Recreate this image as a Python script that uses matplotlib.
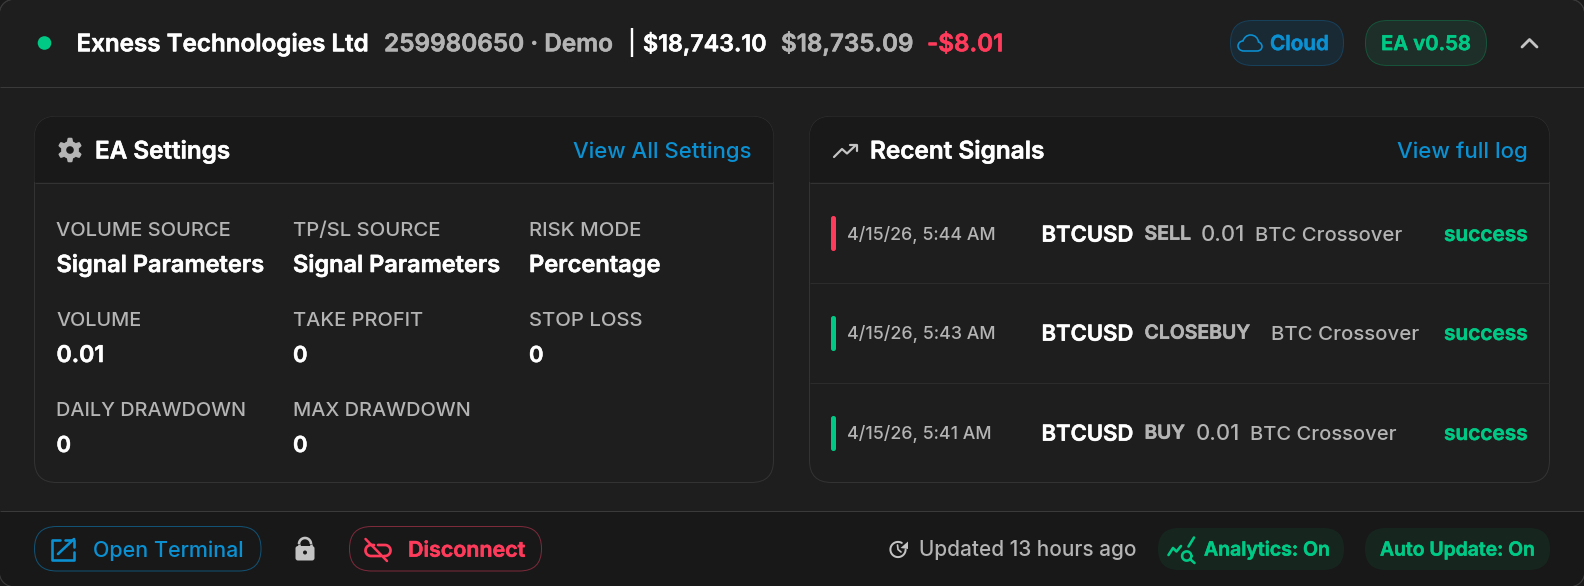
import numpy as np
import matplotlib
matplotlib.use("Agg")
import matplotlib.pyplot as plt
import matplotlib.patheffects as pe
from matplotlib.patches import FancyBboxPatch, Circle, PathPatch, Polygon
from matplotlib.path import Path

# ---- content -------------------------------------------------------------
broker = "Exness Technologies Ltd"
account = "259980650 · Demo"
balance = "$18,743.10"
equity = "$18,735.09"
pnl = "-$8.01"
badge_cloud = "Cloud"
badge_version = "EA v0.58"

settings_title = "EA Settings"
settings_link = "View All Settings"
settings_labels = ["VOLUME SOURCE", "TP/SL SOURCE", "RISK MODE", "VOLUME", "TAKE PROFIT",
                   "STOP LOSS", "DAILY DRAWDOWN", "MAX DRAWDOWN"]
settings_values = ["Signal Parameters", "Signal Parameters", "Percentage", "0.01", "0", "0", "0", "0"]

signals_title = "Recent Signals"
signals_link = "View full log"
signal_dates = ["4/15/26, 5:44 AM", "4/15/26, 5:43 AM", "4/15/26, 5:41 AM"]
signal_symbols = ["BTCUSD", "BTCUSD", "BTCUSD"]
signal_sides = ["SELL", "CLOSEBUY", "BUY"]
signal_volumes = ["0.01", "", "0.01"]
signal_sources = ["BTC Crossover", "BTC Crossover", "BTC Crossover"]
signal_status = ["success", "success", "success"]

btn_terminal = "Open Terminal"
btn_disconnect = "Disconnect"
updated = "Updated 13 hours ago"
pill_analytics = "Analytics: On"
pill_update = "Auto Update: On"

# ---- palette -------------------------------------------------------------
BG, DARK, LINE, CARD = "#1e1e1e", "#191919", "#3a3a3a", "#333333"
WHITE, GRAY = "#ffffff", "#b4b4b4"
GREEN, RED, BLUE = "#00c986", "#ff3b5c", "#0b90d2"
SEMI, MED = "semibold", "medium"

W, H = 1584, 586
plt.rcParams["font.family"] = ["Inter", "DejaVu Sans"]
fig = plt.figure(figsize=(W / 100, H / 100), dpi=100, facecolor="#1a1a1a")
ax = fig.add_axes([0, 0, 1, 1])
ax.set_xlim(0, W)
ax.set_ylim(H, 0)
ax.axis("off")
renderer = fig.canvas.get_renderer()
PX = 0.72


def rrect(x0, y0, x1, y1, r, fc="none", ec="none", lw=1.0, z=1):
    p = FancyBboxPatch((x0, y0), x1 - x0, y1 - y0, boxstyle=f"round,pad=0,rounding_size={r}",
                       fc=fc, ec=ec, lw=lw * PX, zorder=z)
    ax.add_patch(p)
    return p


def rect_clip(x0, y0, x1, y1, fc, clip, z=1):
    p = plt.Rectangle((x0, y0), x1 - x0, y1 - y0, fc=fc, ec="none", zorder=z)
    ax.add_patch(p)
    p.set_clip_path(clip)


def hline(x0, x1, y, c=LINE, z=3, lw=1.0):
    ax.plot([x0, x1], [y, y], color=c, lw=lw * PX, zorder=z, solid_capstyle="butt")


def txt(s, x0, yc, px, color=WHITE, weight="normal", x1=None):
    """text with left edge x0, caps centred on yc; x1 fits the width"""
    t = ax.text(x0, yc + 0.364 * px, s, color=color, fontsize=px * PX, fontweight=weight,
                ha="left", va="baseline", zorder=6)
    if x1 is not None:
        w = t.get_window_extent(renderer).width
        t.set_fontsize(px * PX * (x1 - x0) / w)
    if weight == SEMI:
        t.set_path_effects([pe.withStroke(linewidth=0.4, foreground=color)])
    return t


def stroke(pts, c, lw=2.0, z=6, cap="round"):
    pts = np.asarray(pts, float)
    ax.plot(pts[:, 0], pts[:, 1], color=c, lw=lw * PX, zorder=z, solid_capstyle=cap,
            solid_joinstyle="round")


def arc(cx, cy, r, a0, a1, n=40):
    a = np.radians(np.linspace(a0, a1, n))
    return np.column_stack([cx + r * np.cos(a), cy + r * np.sin(a)])


# ---- frame ---------------------------------------------------------------
outer = rrect(-1, -1, W + 1, H + 1, 18, fc=BG, ec=LINE, z=0.5)
rect_clip(0, 511, W, H, "#181818", outer, z=0.6)
rrect(-1, -1, W + 1, H + 1, 18, fc="none", ec=LINE, z=0.7)
hline(0, W, 86.5)
hline(0, W, 510.5)

# ---- header --------------------------------------------------------------
ax.add_patch(Circle((44.5, 43), 6.8, fc=GREEN, ec="none", zorder=4))
txt(broker, 76.5, 44, 20, WHITE, SEMI, 369)
txt(account, 384, 44, 20, GRAY, SEMI, 613)
ax.plot([632, 632], [28, 57], color=WHITE, lw=2.4 * PX, zorder=4, solid_capstyle="butt")
txt(balance, 643, 44, 20, WHITE, SEMI, 766)
txt(equity, 781, 44, 20, GRAY, SEMI, 913)
txt(pnl, 927, 44, 20, RED, SEMI, 1003)

rrect(1230.5, 20.5, 1343.5, 65.5, 22, fc="#1a2a35", ec="#17405a", z=2)
cloud_v = [(1244, 51), (1240, 51), (1238, 48.5), (1238, 46), (1238, 43), (1240.5, 41), (1243, 41),
           (1244, 37.5), (1247, 35), (1250.5, 35), (1255, 35), (1258, 38), (1258.5, 42),
           (1260.5, 42.5), (1262, 44.5), (1262, 46.5), (1262, 49), (1260, 51), (1257, 51), (1244, 51)]
cloud_c = [Path.MOVETO] + [Path.CURVE4] * 18 + [Path.LINETO]
ax.add_patch(PathPatch(Path(cloud_v, cloud_c), fc="none", ec=BLUE, lw=1.6 * PX, zorder=6))
txt(badge_cloud, 1270, 43.5, 18, BLUE, SEMI, 1329)
rrect(1365.5, 20.5, 1486.5, 65.5, 22, fc="#1d2f28", ec="#17533a", z=2)
txt(badge_version, 1381, 43.5, 18, GREEN, SEMI, 1471)
stroke([(1522, 47), (1529.5, 39.5), (1537, 47)], "#c4c4c4", 2.8)

# ---- settings card -------------------------------------------------------
c1 = rrect(34.5, 116.5, 773.5, 482.5, 22, fc=BG, ec=CARD, z=2)
rect_clip(34, 116, 774, 182, DARK, c1, z=2.1)
hline(35, 773, 182.5, CARD)
# gear icon
a = np.linspace(0, 2 * np.pi, 145)[:-1]
teeth = 10.6 + 1.7 * np.clip(2.2 * np.cos(6 * (a + np.pi / 6)), -1, 1)
gear = np.column_stack([70 + teeth * np.cos(a), 150 + teeth * np.sin(a)])
hole = arc(70, 150, 3.8, 360, 0, 40)
verts = np.vstack([gear, gear[:1], hole, hole[:1]])
codes = [Path.MOVETO] + [Path.LINETO] * (len(gear) - 1) + [Path.CLOSEPOLY] + \
        [Path.MOVETO] + [Path.LINETO] * (len(hole) - 1) + [Path.CLOSEPOLY]
ax.add_patch(PathPatch(Path(verts, codes), fc=GRAY, ec="none", zorder=6))
txt(settings_title, 95, 150.5, 22, WHITE, SEMI, 230.5)
txt(settings_link, 573, 150, 21, BLUE, MED, 752)

col_x = [56.5, 293, 529]
row_y = [(229, 264), (319, 354), (409, 444)]
label_x1 = [232, 441, 642, 142, 423, 643, 247, 471]
value_x1 = [265, 501, 661, 104, None, None, None, None]
for i, (lab, val) in enumerate(zip(settings_labels, settings_values)):
    x = col_x[i % 3]
    yl, yv = row_y[i // 3]
    txt(lab, x, yl, 18, GRAY, MED, label_x1[i])
    txt(val, x, yv, 22, WHITE, SEMI, value_x1[i])

# ---- signals card --------------------------------------------------------
c2 = rrect(809.5, 116.5, 1549.5, 482.5, 22, fc=BG, ec=CARD, z=2)
rect_clip(809, 116, 1550, 182, DARK, c2, z=2.1)
hline(810, 1549, 182.5, CARD)
hline(810, 1549, 282.5, "#2c2c2c")
hline(810, 1549, 382.5, "#2c2c2c")
stroke([(834, 157), (842, 149), (847, 153.5), (856, 145)], "#c4c4c4", 2.2)
stroke([(850, 145), (856.5, 145), (856.5, 151)], "#c4c4c4", 2.2)
txt(signals_title, 870, 150.5, 22, WHITE, SEMI, 1045)
txt(signals_link, 1397, 150, 21, BLUE, MED, 1528)

bar_top = [216, 316, 416]
row_c = [234, 333, 433]
side_x = [(1144.5, 1191), (1144.5, 1250), (1144.5, 1185)]
vol_x = [(1201, 1245), None, (1196, 1240)]
src_x = [(1255, 1402), (1271, 1419), (1250, 1396)]
date_x1 = [995, 995, 991]
bar_col = [RED, GREEN, GREEN]
for i in range(3):
    y = row_c[i]
    rrect(831, bar_top[i], 836, bar_top[i] + 35, 2.4, fc=bar_col[i], z=4)
    txt(signal_dates[i], 847, y, 17, GRAY, MED, date_x1[i])
    txt(signal_symbols[i], 1041.5, y, 21, WHITE, SEMI, 1133)
    txt(signal_sides[i], side_x[i][0], y - 0.5, 17, GRAY, SEMI, side_x[i][1])
    if signal_volumes[i]:
        txt(signal_volumes[i], vol_x[i][0], y, 20, GRAY, MED, vol_x[i][1])
    txt(signal_sources[i], src_x[i][0], y, 20, GRAY, MED, src_x[i][1])
    txt(signal_status[i], 1444, y, 19, GREEN, SEMI, 1528)

# ---- footer --------------------------------------------------------------
rrect(34.5, 526.5, 261, 571, 22, fc="none", ec="#125274", z=4)
stroke([(60, 540), (52, 540), (52, 560), (74, 560), (74, 551.5)], BLUE, 2.6)
stroke([(58, 554), (74, 539)], BLUE, 2.6)
stroke([(65, 539.5), (74, 539.5), (74, 546.5)], BLUE, 2.6)
txt(btn_terminal, 93, 549, 21, BLUE, MED, 244)

stroke(arc(305, 544, 6, 180, 360), "#c4c4c4", 2.6, cap="butt")
stroke([(299, 544), (299, 547)], "#c4c4c4", 2.6, cap="butt")
stroke([(311, 544), (311, 547)], "#c4c4c4", 2.6, cap="butt")
rrect(295.5, 546, 314.5, 560.5, 2.5, fc="#c4c4c4", z=5)
ax.add_patch(Circle((305, 552.5), 2, fc="#1a1a1a", ec="none", zorder=6))

rrect(349.5, 526.5, 541.5, 571, 22, fc="none", ec="#7d2a3b", z=4)
stroke(np.vstack([[(374, 545)], arc(371, 550.5, 5.5, 270, 90), [(381, 556)]]), RED, 2.7)
stroke(np.vstack([[(378, 545)], arc(385, 550.5, 5.5, -90, 90), [(384, 556)]]), RED, 2.7)
stroke([(365.5, 539), (387, 561)], RED, 2.5)
txt(btn_disconnect, 408, 549, 21, RED, SEMI, 525)

stroke(arc(898, 549.5, 7.6, 0, 300), "#c4c4c4", 2.0)
ax.add_patch(Polygon([(908, 541.5), (908, 549), (900.5, 548)], fc="#c4c4c4", ec="none", zorder=6))
stroke([(897.5, 545), (898, 549.5), (901, 552)], "#c4c4c4", 1.7)
txt(updated, 919, 549, 20, GRAY, MED, 1136)

rrect(1158, 528, 1344, 570, 21, fc="#16261f", z=4)
stroke([(1168.5, 555), (1173, 548), (1176.5, 551.5), (1181, 546)], GREEN, 2.6)
stroke([(1188.5, 546.5), (1194, 537.5)], GREEN, 2.6)
stroke(arc(1186.7, 556, 4.6, 0, 360), GREEN, 2.6)
stroke([(1190.5, 559.5), (1194.5, 563)], GREEN, 2.6)
txt(pill_analytics, 1204, 549, 18, GREEN, SEMI, 1330)
rrect(1365, 528, 1550, 570, 21, fc="#16261f", z=4)
txt(pill_update, 1380, 549, 18, GREEN, SEMI, 1535)

fig.savefig("out.png", dpi=100, facecolor=fig.get_facecolor())
